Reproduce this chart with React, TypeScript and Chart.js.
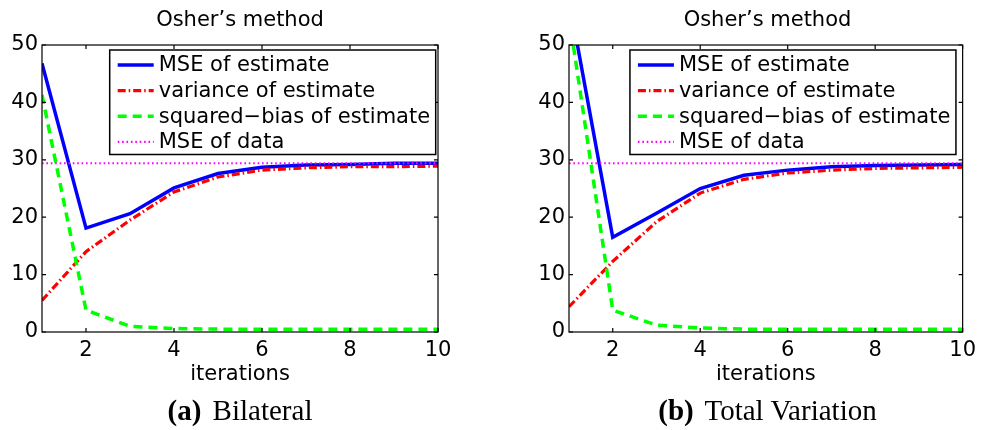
import React, { useEffect, useRef } from "react";
import { Chart, registerables } from "chart.js";

Chart.register(...registerables);

// ---------- data ----------
const iterations = [1, 2, 3, 4, 5, 6, 7, 8, 9, 10];
const xTickValues = [2, 4, 6, 8, 10];
const yTickValues = [0, 10, 20, 30, 40, 50];

const legendLabels = [
  "MSE of estimate",
  "variance of estimate",
  "squared\u2212bias of estimate",
  "MSE of data",
];

const bilateralMse = [46.8, 18.1, 20.6, 25.1, 27.6, 28.7, 29.1, 29.2, 29.4, 29.4];
const bilateralVariance = [5.5, 14.0, 19.5, 24.4, 27.0, 28.2, 28.6, 28.8, 28.8, 28.9];
const bilateralBias = [41.3, 3.8, 1.0, 0.6, 0.5, 0.5, 0.5, 0.5, 0.5, 0.5];
const bilateralDataMse = [29.4, 29.4, 29.4, 29.4, 29.4, 29.4, 29.4, 29.4, 29.4, 29.4];

const tvMse = [58.0, 16.5, 20.7, 25.0, 27.3, 28.2, 28.8, 29.0, 29.1, 29.2];
const tvVariance = [4.4, 12.3, 19.2, 24.2, 26.6, 27.7, 28.2, 28.5, 28.6, 28.7];
const tvBias = [55.0, 3.8, 1.2, 0.7, 0.5, 0.5, 0.5, 0.5, 0.5, 0.5];
const tvDataMse = [29.4, 29.4, 29.4, 29.4, 29.4, 29.4, 29.4, 29.4, 29.4, 29.4];

const panelTitle = "Osher\u2019s method";
const xAxisTitle = "iterations";

const SANS = "'DejaVu Sans', sans-serif";

// ---------- MATLAB-like frame + legend plugin ----------
const matlabFramePlugin = {
  id: "matlabFrame",
  afterDatasetsDraw(chart: any, _args: any, opts: any) {
    const { ctx, chartArea: a, scales } = chart;
    const xs = scales.x;
    const ys = scales.y;
    ctx.save();
    ctx.strokeStyle = "#000";
    ctx.lineWidth = 1.2;
    ctx.setLineDash([]);
    ctx.strokeRect(a.left, a.top, a.right - a.left, a.bottom - a.top);
    const tl = 4;
    ctx.beginPath();
    xTickValues.forEach((v) => {
      const px = xs.getPixelForValue(v);
      ctx.moveTo(px, a.bottom);
      ctx.lineTo(px, a.bottom - tl);
      ctx.moveTo(px, a.top);
      ctx.lineTo(px, a.top + tl);
    });
    yTickValues.forEach((v) => {
      const py = ys.getPixelForValue(v);
      ctx.moveTo(a.left, py);
      ctx.lineTo(a.left + tl, py);
      ctx.moveTo(a.right, py);
      ctx.lineTo(a.right - tl, py);
    });
    ctx.stroke();

    // legend
    const boxRight = a.right - opts.insetRight;
    const boxLeft = boxRight - opts.width;
    const boxTop = a.top + 5;
    const boxHeight = 104.5;
    ctx.fillStyle = "#fff";
    ctx.fillRect(boxLeft, boxTop, opts.width, boxHeight);
    ctx.lineWidth = 1.5;
    ctx.strokeStyle = "#000";
    ctx.strokeRect(boxLeft, boxTop, opts.width, boxHeight);
    ctx.font = `21px ${SANS}`;
    ctx.textBaseline = "middle";
    ctx.textAlign = "left";
    chart.data.datasets.forEach((ds: any, i: number) => {
      const rowY = boxTop + 15 + i * 25.6;
      ctx.save();
      ctx.strokeStyle = ds.borderColor;
      ctx.lineWidth = ds.borderWidth;
      ctx.setLineDash(ds.borderDash || []);
      ctx.beginPath();
      ctx.moveTo(boxLeft + 8, rowY);
      ctx.lineTo(boxLeft + 44, rowY);
      ctx.stroke();
      ctx.restore();
      ctx.fillStyle = "#000";
      ctx.fillText(ds.label, boxLeft + 49, rowY + 1);
    });
    ctx.restore();
  },
};

type PanelProps = {
  left: number;
  width: number;
  axisLeft: number;
  axisRight: number;
  mse: number[];
  variance: number[];
  bias: number[];
  dataMse: number[];
  legendInsetRight: number;
  caption: string;
  captionTag: string;
};

const AXIS_TOP = 45;
const AXIS_BOTTOM = 332;
const HEIGHT = 430;
const X_SCALE_HEIGHT = 60;

function Panel(props: PanelProps) {
  const ref = useRef<HTMLCanvasElement | null>(null);
  useEffect(() => {
    if (!ref.current) return;
    const pts = (arr: number[]) => iterations.map((x, i) => ({ x, y: arr[i] }));
    const chart = new Chart(ref.current, {
      type: "line",
      data: {
        datasets: [
          {
            label: legendLabels[0],
            data: pts(props.mse),
            borderColor: "#0000ff",
            borderWidth: 3.5,
            borderDash: [],
            order: 4,
          },
          {
            label: legendLabels[1],
            data: pts(props.variance),
            borderColor: "#ff0000",
            borderWidth: 3.2,
            borderDash: [8, 3, 1.5, 3],
            order: 3,
          },
          {
            label: legendLabels[2],
            data: pts(props.bias),
            borderColor: "#00ff00",
            borderWidth: 3.5,
            borderDash: [9, 6],
            order: 2,
          },
          {
            label: legendLabels[3],
            data: pts(props.dataMse),
            borderColor: "#ff00ff",
            borderWidth: 2.2,
            borderDash: [1.6, 2.8],
            order: 1,
          },
        ].map((d) => ({
          ...d,
          pointRadius: 0,
          pointHoverRadius: 0,
          tension: 0,
          fill: false,
          clip: 0,
          borderCapStyle: "butt",
        })) as any,
      },
      options: {
        animation: false,
        responsive: false,
        events: [],
        layout: {
          padding: {
            left: 0,
            right: props.width - props.axisRight,
            top: AXIS_TOP,
            bottom: HEIGHT - AXIS_BOTTOM - X_SCALE_HEIGHT,
          },
        },
        plugins: {
          legend: { display: false },
          tooltip: { enabled: false },
          title: { display: false },
          matlabFrame: { insetRight: props.legendInsetRight, width: 326 },
        } as any,
        scales: {
          x: {
            type: "linear",
            min: 1,
            max: 10,
            grid: { display: false, drawTicks: false },
            border: { display: false },
            ticks: {
              color: "#000",
              font: { family: SANS, size: 21 },
              padding: 6,
              autoSkip: false,
              maxRotation: 0,
            },
            title: {
              display: true,
              text: xAxisTitle,
              color: "#000",
              font: { family: SANS, size: 21 },
              padding: { top: 0, bottom: 5 },
            },
            afterBuildTicks: (scale: any) => {
              scale.ticks = xTickValues.map((v) => ({ value: v }));
            },
            afterFit: (scale: any) => {
              scale.height = X_SCALE_HEIGHT;
            },
          },
          y: {
            type: "linear",
            min: 0,
            max: 50,
            grid: { display: false, drawTicks: false },
            border: { display: false },
            ticks: {
              color: "#000",
              font: { family: SANS, size: 21 },
              padding: 4,
            },
            afterBuildTicks: (scale: any) => {
              scale.ticks = yTickValues.map((v) => ({ value: v }));
            },
            afterFit: (scale: any) => {
              scale.width = props.axisLeft;
            },
          },
        } as any,
      },
      plugins: [matlabFramePlugin],
    });
    return () => chart.destroy();
  }, []);

  const center = (props.axisLeft + props.axisRight) / 2;
  return (
    <div style={{ position: "absolute", left: props.left, top: 0, width: props.width, height: HEIGHT }}>
      <canvas ref={ref} width={props.width} height={HEIGHT} style={{ position: "absolute", left: 0, top: 0 }} />
      <div
        style={{
          position: "absolute",
          left: center - 150,
          width: 300,
          top: 9,
          textAlign: "center",
          fontFamily: SANS,
          fontSize: 21,
          lineHeight: "21px",
          color: "#000",
          whiteSpace: "nowrap",
        }}
      >
        {panelTitle}
      </div>
      <div
        style={{
          position: "absolute",
          left: center - 200,
          width: 400,
          top: 396,
          textAlign: "center",
          fontFamily: "'Liberation Serif', serif",
          fontSize: 29,
          lineHeight: "29px",
          color: "#000",
          whiteSpace: "nowrap",
        }}
      >
        <b style={{ marginRight: 4 }}>{props.captionTag}</b> {props.caption}
      </div>
    </div>
  );
}

export default function App() {
  return (
    <div style={{ position: "absolute", left: 0, top: 0, width: 982, height: HEIGHT, background: "#fff" }}>
      <Panel
        left={0}
        width={491}
        axisLeft={42}
        axisRight={438}
        mse={bilateralMse}
        variance={bilateralVariance}
        bias={bilateralBias}
        dataMse={bilateralDataMse}
        legendInsetRight={2.3}
        captionTag="(a)"
        caption="Bilateral"
      />
      <Panel
        left={491}
        width={491}
        axisLeft={78}
        axisRight={475}
        mse={tvMse}
        variance={tvVariance}
        bias={tvBias}
        dataMse={tvDataMse}
        legendInsetRight={6.7}
        captionTag="(b)"
        caption="Total Variation"
      />
    </div>
  );
}
